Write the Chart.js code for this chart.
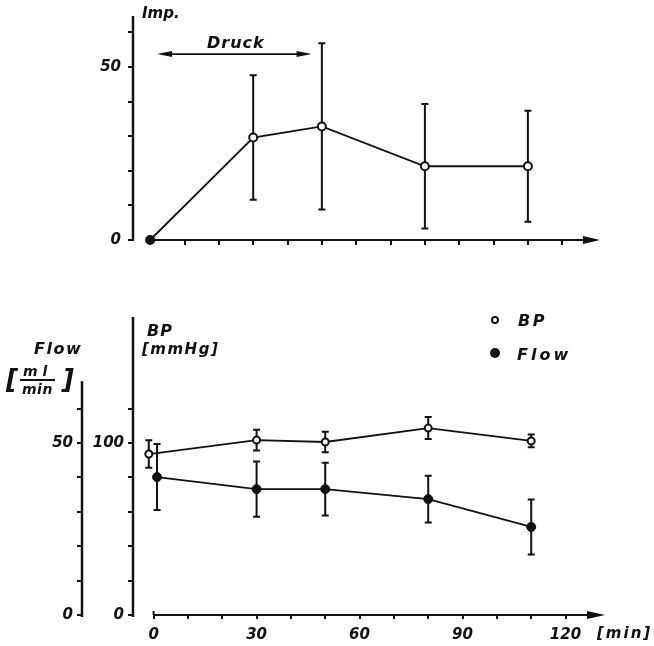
<!DOCTYPE html>
<html>
<head>
<meta charset="utf-8">
<script src="https://cdn.jsdelivr.net/npm/chart.js@4.4.1/dist/chart.umd.min.js"></script>
<style>
  body { margin: 0; background: #fff; }
  #wrap { position: relative; width: 654px; height: 646px; font-family: "DejaVu Sans", sans-serif; font-style: italic; font-weight: bold; color: #111; }
  canvas { position: absolute; left: 0; }
  .lbl { position: absolute; white-space: nowrap; line-height: 1; }
  .dot { position: absolute; border-radius: 50%; box-sizing: border-box; }
</style>
</head>
<body>
<div id="wrap">
  <canvas id="impChart" width="654" height="260" style="top:0"></canvas>
  <canvas id="bpChart" width="654" height="346" style="top:300px"></canvas>

  <div class="lbl" style="left:142px;top:6px;font-size:15px">Imp.</div>
  <div class="lbl" style="left:207px;top:35px;font-size:16px;letter-spacing:1px">Druck</div>

  <div class="lbl" style="left:147px;top:323px;font-size:16px;letter-spacing:1px">BP</div>
  <div class="lbl" style="left:142px;top:342px;font-size:15px;letter-spacing:1.5px">[mmHg]</div>

  <div class="lbl" style="left:34px;top:341px;font-size:16px;letter-spacing:1.5px">Flow</div>
  <div class="lbl" style="left:6px;top:366px;font-size:26px">[</div>
  <div class="lbl" style="left:23px;top:364px;font-size:14px;letter-spacing:5px">ml</div>
  <div style="position:absolute;left:20px;top:379px;width:35px;height:2px;background:#111"></div>
  <div class="lbl" style="left:22px;top:382px;font-size:14px;letter-spacing:0.5px">min</div>
  <div class="lbl" style="left:62px;top:366px;font-size:26px">]</div>

  <div class="dot" style="left:491px;top:316px;width:8px;height:8px;border:2px solid #111"></div>
  <div class="lbl" style="left:518px;top:313px;font-size:16px;letter-spacing:2.5px">BP</div>
  <div class="dot" style="left:490px;top:348px;width:10px;height:10px;background:#111"></div>
  <div class="lbl" style="left:517px;top:347px;font-size:16px;letter-spacing:3px">Flow</div>

  <div class="lbl" style="left:597px;top:626px;font-size:15px;letter-spacing:2px">[min]</div>
</div>
<script>
// Impulse chart (top)
const minutes = [0, 30, 50, 80, 110];
const impMean = [0, 29.6, 32.8, 21.3, 21.3];
const impErr = [0, 18, 24, 18, 16];
const druckSpan = [2, 47];
const druckLevel = 53.7;

// BP / Flow chart (bottom)
const bpMinutes = [-1.4, 30, 50, 80, 110];
const bpMean = [93.6, 101.7, 100.6, 108.7, 101.2];
const bpErr = [8, 6, 6, 6.4, 3.7];

const flowMinutes = [1, 30, 50, 80, 110];
const flowMean = [40.1, 36.6, 36.6, 33.7, 25.6];
const flowErr = [9.6, 8, 7.7, 6.8, 8];

// axis ticks
const timeTicks = [0, 10, 20, 30, 40, 50, 60, 70, 80, 90, 100, 110, 120];
const timeLabels = [0, 30, 60, 90, 120];
const impTicks = [0, 10, 20, 30, 40, 50, 60];
const impLabels = [0, 50];
const bpTicks = [0, 20, 40, 60, 80, 100, 120];
const bpLabels = [0, 100];
const flowTicks = [0, 10, 20, 30, 40, 50, 60];
const flowLabels = [0, 50];

const ink = '#111';
const tickFont = { family: 'DejaVu Sans', style: 'italic', weight: 'bold', size: 15 };

function pts(xs, ys) {
  return xs.map((x, i) => ({ x: x, y: ys[i] }));
}

function arrowHead(ctx, x, y, dir, len, half) {
  ctx.beginPath();
  ctx.moveTo(x, y);
  ctx.lineTo(x - dir * len, y - half);
  ctx.lineTo(x - dir * len, y + half);
  ctx.closePath();
  ctx.fill();
}

function axisGrid(len) {
  return { drawOnChartArea: false, drawTicks: true, tickLength: len, color: ink, lineWidth: 2 };
}

function setTicks(values) {
  return s => { s.ticks = values.map(v => ({ value: v })); };
}

function labelOnly(values) {
  return v => values.includes(v) ? String(v) : '';
}

const errorBars = {
  id: 'errorBars',
  beforeDatasetsDraw(chart) {
    const ctx = chart.ctx;
    chart.data.datasets.forEach(ds => {
      if (!ds.errors) return;
      const xs = chart.scales.x;
      const ys = chart.scales[ds.yAxisID || 'y'];
      ctx.save();
      ctx.strokeStyle = ink;
      ctx.lineWidth = 2;
      ds.data.forEach((p, j) => {
        const e = ds.errors[j];
        if (!e) return;
        const x = xs.getPixelForValue(p.x);
        const y1 = ys.getPixelForValue(p.y + e);
        const y2 = ys.getPixelForValue(p.y - e);
        ctx.beginPath();
        ctx.moveTo(x, y1); ctx.lineTo(x, y2);
        ctx.moveTo(x - 3.5, y1); ctx.lineTo(x + 3.5, y1);
        ctx.moveTo(x - 3.5, y2); ctx.lineTo(x + 3.5, y2);
        ctx.stroke();
      });
      ctx.restore();
    });
  }
};

const topAxes = {
  id: 'topAxes',
  beforeDatasetsDraw(chart) {
    const { ctx, chartArea: a, scales: { x, y } } = chart;
    const y0 = y.getPixelForValue(0);
    ctx.save();
    ctx.strokeStyle = ink;
    ctx.fillStyle = ink;
    ctx.lineWidth = 2.5;
    ctx.beginPath(); ctx.moveTo(a.left, y0 + 1); ctx.lineTo(a.left, a.top); ctx.stroke();
    ctx.lineWidth = 2;
    ctx.beginPath(); ctx.moveTo(x.getPixelForValue(0), y0); ctx.lineTo(a.right - 10, y0); ctx.stroke();
    arrowHead(ctx, a.right, y0, 1, 17, 4);

    // "Druck" period arrow
    const dy = y.getPixelForValue(druckLevel);
    const dx1 = x.getPixelForValue(druckSpan[0]);
    const dx2 = x.getPixelForValue(druckSpan[1]);
    ctx.lineWidth = 1.6;
    ctx.beginPath(); ctx.moveTo(dx1 + 6, dy); ctx.lineTo(dx2 - 6, dy); ctx.stroke();
    arrowHead(ctx, dx1, dy, -1, 15, 3);
    arrowHead(ctx, dx2, dy, 1, 15, 3);
    ctx.restore();
  }
};

const bottomAxes = {
  id: 'bottomAxes',
  beforeDatasetsDraw(chart) {
    const { ctx, chartArea: a, scales: { x, yBP, yFlow } } = chart;
    const y0 = yBP.getPixelForValue(0);
    ctx.save();
    ctx.strokeStyle = ink;
    ctx.fillStyle = ink;
    ctx.lineWidth = 2.5;
    ctx.beginPath(); ctx.moveTo(yBP.right, y0 + 2); ctx.lineTo(yBP.right, a.top); ctx.stroke();
    ctx.beginPath(); ctx.moveTo(yFlow.right, y0 + 2); ctx.lineTo(yFlow.right, yFlow.getPixelForValue(68)); ctx.stroke();
    ctx.lineWidth = 2;
    const x0 = x.getPixelForValue(0);
    ctx.beginPath(); ctx.moveTo(x0, y0); ctx.lineTo(a.right - 10, y0); ctx.stroke();
    ctx.beginPath(); ctx.moveTo(x0, y0 - 4); ctx.lineTo(x0, y0); ctx.stroke();
    arrowHead(ctx, a.right, y0, 1, 18, 4);
    ctx.restore();
  }
};

new Chart(document.getElementById('impChart'), {
  type: 'line',
  data: {
    datasets: [{
      data: pts(minutes, impMean),
      errors: impErr,
      borderColor: ink,
      borderWidth: 1.8,
      tension: 0,
      pointRadius: 4,
      pointBorderWidth: 2,
      pointBorderColor: ink,
      pointBackgroundColor: impMean.map((v, i) => i === 0 ? ink : '#fff'),
      clip: false
    }]
  },
  options: {
    responsive: false,
    animation: false,
    layout: { padding: { left: 0, top: 15, right: 54, bottom: 0 } },
    plugins: { legend: { display: false }, tooltip: { enabled: false } },
    scales: {
      x: {
        type: 'linear', min: -5, max: 131,
        afterBuildTicks: setTicks(timeTicks),
        afterFit: s => { s.height = 20; },
        grid: axisGrid(5),
        border: { display: false },
        ticks: { autoSkip: false, callback: () => '' }
      },
      y: {
        min: 0, max: 64.7,
        afterBuildTicks: setTicks(impTicks),
        afterFit: s => { s.width = 133; },
        grid: axisGrid(5),
        border: { display: false },
        ticks: { autoSkip: false, padding: 7, color: ink, font: tickFont, callback: labelOnly(impLabels) }
      }
    }
  },
  plugins: [topAxes, errorBars]
});

new Chart(document.getElementById('bpChart'), {
  type: 'line',
  data: {
    datasets: [{
      label: 'BP',
      yAxisID: 'yBP',
      data: pts(bpMinutes, bpMean),
      errors: bpErr,
      borderColor: ink,
      borderWidth: 1.8,
      tension: 0,
      pointRadius: 3.5,
      pointBorderWidth: 2,
      pointBorderColor: ink,
      pointBackgroundColor: '#fff',
      clip: false
    }, {
      label: 'Flow',
      yAxisID: 'yFlow',
      data: pts(flowMinutes, flowMean),
      errors: flowErr,
      borderColor: ink,
      borderWidth: 1.8,
      tension: 0,
      pointRadius: 4.5,
      pointBorderWidth: 1,
      pointBorderColor: ink,
      pointBackgroundColor: ink,
      clip: false
    }]
  },
  options: {
    responsive: false,
    animation: false,
    layout: { padding: { left: 0, top: 17, right: 49, bottom: 0 } },
    plugins: { legend: { display: false }, tooltip: { enabled: false } },
    scales: {
      x: {
        type: 'linear', min: -6, max: 131.5,
        afterBuildTicks: setTicks(timeTicks),
        afterFit: s => { s.height = 31; },
        grid: axisGrid(4),
        border: { display: false },
        ticks: { autoSkip: false, maxRotation: 0, padding: 7, color: ink, font: tickFont, callback: labelOnly(timeLabels) }
      },
      yBP: {
        position: 'left', weight: 0, min: 0, max: 173.3,
        afterBuildTicks: setTicks(bpTicks),
        afterFit: s => { s.width = 51; },
        grid: axisGrid(5),
        border: { display: false },
        ticks: { autoSkip: false, padding: 4, color: ink, font: tickFont, callback: labelOnly(bpLabels) }
      },
      yFlow: {
        position: 'left', weight: 1, min: 0, max: 86.65,
        afterBuildTicks: setTicks(flowTicks),
        afterFit: s => { s.width = 82; },
        grid: axisGrid(5),
        border: { display: false },
        ticks: { autoSkip: false, padding: 4, color: ink, font: tickFont, callback: labelOnly(flowLabels) }
      }
    }
  },
  plugins: [bottomAxes, errorBars]
});
</script>
</body>
</html>
